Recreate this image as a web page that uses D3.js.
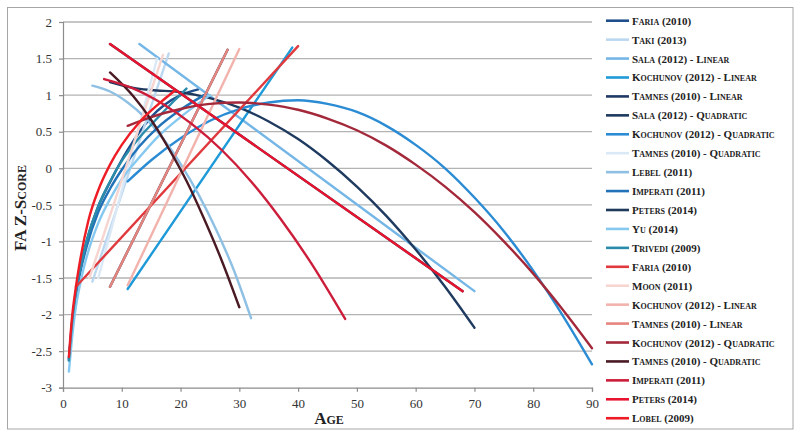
<!DOCTYPE html>
<html><head><meta charset="utf-8">
<script src="https://cdn.jsdelivr.net/npm/d3@7/dist/d3.min.js"></script>
<style>body{margin:0;background:#fff}</style>
</head><body><svg id="c" width="800" height="437"></svg>
<script>
const seriesNames = [
  "Faria (2010)", "Taki (2013)", "Sala (2012) - Linear", "Kochunov (2012) - Linear",
  "Tamnes (2010) - Linear", "Sala (2012) - Quadratic", "Kochunov (2012) - Quadratic",
  "Tamnes (2010) - Quadratic", "Lebel (2011)", "Imperati (2011)", "Peters (2014)",
  "Yu (2014)", "Trivedi (2009)", "Faria (2010)", "Moon (2011)", "Kochunov (2012) - Linear",
  "Tamnes (2010) - Linear", "Kochunov (2012) - Quadratic", "Tamnes (2010) - Quadratic",
  "Imperati (2011)", "Peters (2014)", "Lobel (2009)"
];
const seriesColors = [
  "#1f4e8c", "#bcd8f0", "#74b6e6", "#1e9ad8", "#1f3864", "#1f3a5f", "#2b8cd4",
  "#dbe9f6", "#8ec0e4", "#2272b8", "#1f3a5c", "#86c9f0", "#2a8bab",
  "#e03a3e", "#f6d5d0", "#f2b3ad", "#e6847e", "#a3283a", "#4a1a24",
  "#cc1d3b", "#e8132e", "#ee1c25"
];
const seriesAges = [
  [1, 1.5, 2, 3, 4, 6, 8, 11, 15, 20, 23],
  [5, 18],
  [13, 70],
  [11, 39],
  [8, 28],
  [8, 12, 15, 20, 25, 30, 35, 40, 45, 50, 55, 60, 65, 70],
  [11, 15, 20, 25, 30, 35, 40, 45, 50, 55, 60, 65, 70, 75, 80, 85, 90],
  [6, 16],
  [5, 8, 11, 14, 17, 20, 23, 26, 29, 32],
  [1, 1.5, 2, 3, 4, 6, 8, 10, 13, 16, 20, 24],
  [8, 68],
  [1, 1.5, 2, 3, 4, 6, 8, 10, 13, 16, 20, 25],
  [1, 1.5, 2, 3, 4, 6, 8, 10, 13, 16, 19, 21],
  [2.2, 40],
  [4.5, 17],
  [11, 30],
  [8, 28],
  [11, 15, 20, 25, 30, 35, 40, 45, 50, 55, 60, 65, 70, 75, 80, 85, 90],
  [8, 12, 15, 18, 21, 24, 27, 30],
  [7, 12, 17, 22, 27, 32, 37, 42, 48],
  [8, 68],
  [1, 1.5, 2.2, 3, 4.3, 6, 8, 10, 13, 16, 19]
];
const seriesZ = [
  [-2.62, -2.15, -1.81, -1.33, -1.0, -0.52, -0.19, 0.25, 0.7, 1.0, 1.08],
  [-1.55, 1.57],
  [1.70, -1.68],
  [-1.65, 1.65],
  [-1.62, 1.62],
  [1.18, 1.1, 1.07, 1.04, 0.96, 0.83, 0.64, 0.40, 0.10, -0.25, -0.65, -1.11, -1.62, -2.18],
  [-0.18, 0.11, 0.41, 0.65, 0.81, 0.90, 0.93, 0.88, 0.77, 0.58, 0.32, 0.0, -0.40, -0.86, -1.40, -2.01, -2.68],
  [-1.5, 1.5],
  [1.13, 1.05, 0.90, 0.69, 0.41, 0.06, -0.35, -0.83, -1.38, -2.05],
  [-2.6, -2.2, -1.85, -1.4, -1.08, -0.6, -0.28, -0.02, 0.3, 0.55, 0.8, 1.0],
  [1.70, -1.68],
  [-2.78, -2.35, -2.0, -1.55, -1.22, -0.75, -0.42, -0.15, 0.15, 0.42, 0.7, 1.0],
  [-2.63, -2.15, -1.8, -1.35, -1.0, -0.52, -0.18, 0.1, 0.42, 0.68, 0.93, 1.09],
  [-1.62, 1.67],
  [-1.5, 1.55],
  [-1.6, 1.63],
  [-1.62, 1.62],
  [0.58, 0.70, 0.81, 0.88, 0.90, 0.87, 0.80, 0.68, 0.52, 0.31, 0.05, -0.25, -0.60, -1.0, -1.44, -1.93, -2.46],
  [1.31, 0.98, 0.66, 0.27, -0.17, -0.69, -1.26, -1.90],
  [1.22, 1.09, 0.88, 0.60, 0.25, -0.18, -0.69, -1.27, -2.06],
  [1.70, -1.68],
  [-2.58, -2.07, -1.62, -1.22, -0.72, -0.3, 0.05, 0.32, 0.63, 0.86, 1.06]
];
const xTicks = [0, 10, 20, 30, 40, 50, 60, 70, 80, 90];
const yTicks = [-3, -2.5, -2, -1.5, -1, -0.5, 0, 0.5, 1, 1.5, 2];
const xTitle = "Age";
const yTitle = "FA Z-Score";

const svg = d3.select("#c");
const x = d3.scaleLinear().domain([0, 90]).range([63, 592]);
const y = d3.scaleLinear().domain([-3, 2]).range([387.7, 22]);
const serif = "'Liberation Serif','Times New Roman',serif";

svg.append("rect").attr("x", 7.5).attr("y", 7.5).attr("width", 785.5).attr("height", 421.5)
  .attr("fill", "#fff").attr("stroke", "#a6a6a6").attr("stroke-width", 1);

svg.append("g").selectAll("line").data(yTicks.filter(d => d > -3)).join("line")
  .attr("x1", x(0)).attr("x2", x(90))
  .attr("y1", d => y(d)).attr("y2", d => y(d))
  .attr("stroke", "#b3b3b3").attr("stroke-width", 1.3);

const fmt = d => String(d);
const gx = svg.append("g").attr("transform", `translate(0,${y(-3)})`)
  .call(d3.axisBottom(x).tickValues(xTicks).tickFormat(fmt).tickSize(4).tickPadding(7));
const gy = svg.append("g").attr("transform", `translate(${x(0)},0)`)
  .call(d3.axisLeft(y).tickValues(yTicks).tickFormat(fmt).tickSize(4).tickPadding(7));
[gx, gy].forEach(g => {
  g.select(".domain").attr("stroke", "#8c8c8c").attr("stroke-width", 1.2);
  g.selectAll(".tick line").attr("stroke", "#8c8c8c").attr("stroke-width", 1.2);
  g.selectAll(".tick text").attr("font-family", serif).attr("font-size", 13).attr("fill", "#333");
});

const line = d3.line().x(d => x(d[0])).y(d => y(d[1])).curve(d3.curveMonotoneX);
const plot = svg.append("g");
seriesNames.forEach((name, i) => {
  const pts = seriesAges[i].map((a, j) => [a, seriesZ[i][j]]);
  plot.append("path").attr("d", line(pts)).attr("fill", "none")
    .attr("stroke", seriesColors[i]).attr("stroke-width", 2.4)
    .attr("stroke-linecap", "round").attr("stroke-linejoin", "round");
});

const lg = svg.append("g");
seriesNames.forEach((name, i) => {
  const yy = 20.7 + i * 18.93;
  lg.append("line").attr("x1", 606).attr("x2", 629).attr("y1", yy).attr("y2", yy)
    .attr("stroke", seriesColors[i]).attr("stroke-width", 2.6);
  lg.append("text").attr("x", 632).attr("y", yy + 4)
    .attr("font-family", serif).attr("font-size", 11).attr("font-weight", "bold")
    .style("font-variant", "small-caps").attr("fill", "#222").text(name);
});

svg.append("text").attr("x", 329).attr("y", 424).attr("text-anchor", "middle")
  .attr("font-family", serif).attr("font-size", 17).attr("font-weight", "bold")
  .style("font-variant", "small-caps").attr("fill", "#222").text(xTitle);
svg.append("text").attr("transform", "translate(26,208) rotate(-90)").attr("text-anchor", "middle")
  .attr("font-family", serif).attr("font-size", 17).attr("font-weight", "bold")
  .style("font-variant", "small-caps").attr("fill", "#222").text(yTitle);
</script></body></html>
